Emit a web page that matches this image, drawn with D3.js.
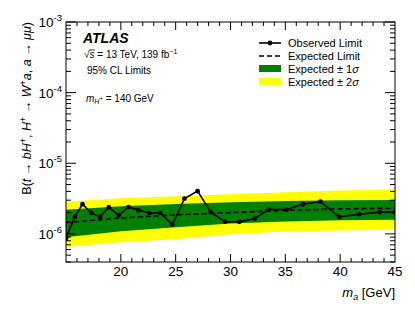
<!DOCTYPE html>
<html lang="en">
<head>
  <meta charset="UTF-8">
  <title>ATLAS limits on B(t -> bH+, H+ -> W+a, a -> mumu)</title>
  <script src="https://d3js.org/d3.v7.min.js"></script>
  <style>
    body { margin: 0; background: #fff; }
    svg { display: block; font-family: 'Liberation Sans', Arial, Helvetica, sans-serif; }
  </style>
</head>
<body>
  <svg id="chart" width="415" height="312"></svg>

  <script>
    // observed limit points (m_a in GeV, limit on branching ratio)
    const obsMass = [15.0, 15.8, 16.5, 17.3, 18.1, 18.9, 19.8, 20.7, 21.6, 22.6, 23.6, 24.7, 25.8,
                     27.0, 28.2, 29.5, 30.8, 32.2, 33.5, 35.1, 36.6, 38.2, 39.9, 41.7, 43.6, 45.0];
    const obsLimit = [0.87e-6, 1.74e-6, 2.63e-6, 1.98e-6, 1.74e-6, 2.39e-6, 1.84e-6, 2.40e-6, 2.17e-6,
                      1.98e-6, 1.98e-6, 1.35e-6, 3.16e-6, 4.03e-6, 2.03e-6, 1.49e-6, 1.48e-6, 1.65e-6,
                      2.21e-6, 2.21e-6, 2.63e-6, 2.87e-6, 1.74e-6, 1.90e-6, 2.03e-6, 2.03e-6];

    // expected limit and bands
    const expMass = [15, 20, 25, 30, 35, 40, 45];
    const expLimit = [1.45e-6, 1.68e-6, 1.86e-6, 2.00e-6, 2.15e-6, 2.26e-6, 2.31e-6];
    const exp1Up   = [2.19e-6, 2.47e-6, 2.66e-6, 2.81e-6, 2.92e-6, 3.00e-6, 3.03e-6];
    const exp1Down = [0.90e-6, 1.09e-6, 1.24e-6, 1.40e-6, 1.50e-6, 1.56e-6, 1.58e-6];
    const exp2Up   = [2.86e-6, 3.20e-6, 3.40e-6, 3.65e-6, 3.90e-6, 4.10e-6, 4.20e-6];
    const exp2Down = [0.65e-6, 0.76e-6, 0.84e-6, 0.99e-6, 1.08e-6, 1.12e-6, 1.14e-6];

    const xTicks = [20, 25, 30, 35, 40, 45];
    const yTicks = [1e-6, 1e-5, 1e-4, 1e-3];
    const yTickExp = ["-6", "-5", "-4", "-3"];

    const W = 415, H = 312;
    const margin = {top: 22, right: 20, bottom: 50, left: 66};
    const width = W - margin.left - margin.right,
          height = H - margin.top - margin.bottom;

    const svg = d3.select("#chart");
    const g = svg.append("g").attr("transform", `translate(${margin.left},${margin.top})`);

    const x = d3.scaleLinear().domain([15, 45]).range([0, width]);
    const y = d3.scaleLog().domain([4e-7, 1e-3]).range([height, 0]);

    g.append("clipPath").attr("id", "plotclip")
      .append("rect").attr("width", width).attr("height", height);
    const plot = g.append("g").attr("clip-path", "url(#plotclip)");

    // bands
    const band = (up, down) => d3.area()
      .x((d, i) => x(expMass[i]))
      .y0((d, i) => y(down[i]))
      .y1((d, i) => y(up[i]));

    plot.append("path").datum(expMass)
      .attr("fill", "#ffff00")
      .attr("d", band(exp2Up, exp2Down));
    plot.append("path").datum(expMass)
      .attr("fill", "#008000")
      .attr("d", band(exp1Up, exp1Down));

    // expected limit
    plot.append("path").datum(expMass)
      .attr("fill", "none").attr("stroke", "#000")
      .attr("stroke-width", 1.6).attr("stroke-dasharray", "5,3")
      .attr("d", d3.line().x((d, i) => x(expMass[i])).y((d, i) => y(expLimit[i])));

    // observed limit
    plot.append("path").datum(obsMass)
      .attr("fill", "none").attr("stroke", "#000").attr("stroke-width", 1.6)
      .attr("d", d3.line().x((d, i) => x(obsMass[i])).y((d, i) => y(obsLimit[i])));
    plot.selectAll("circle.obs").data(obsMass).enter().append("circle")
      .attr("class", "obs")
      .attr("cx", d => x(d))
      .attr("cy", (d, i) => y(obsLimit[i]))
      .attr("r", 2.4)
      .attr("fill", "#000");

    // frame
    g.append("rect").attr("width", width).attr("height", height)
      .attr("fill", "none").attr("stroke", "#000").attr("stroke-width", 1);

    // x ticks (inside, bottom and top)
    const xMinor = d3.range(16, 45, 1);
    xMinor.forEach(v => {
      const major = v % 5 === 0;
      const len = major ? 8 : 4;
      g.append("line").attr("x1", x(v)).attr("x2", x(v)).attr("y1", height).attr("y2", height - len)
        .attr("stroke", "#000");
      g.append("line").attr("x1", x(v)).attr("x2", x(v)).attr("y1", 0).attr("y2", len)
        .attr("stroke", "#000");
    });
    g.selectAll("text.xt").data(xTicks).enter().append("text")
      .attr("class", "xt")
      .attr("x", d => x(d)).attr("y", height + 14)
      .attr("text-anchor", "middle")
      .attr("font-size", 13.5)
      .text(d => d);

    // y ticks (inside, left and right)
    y.ticks().forEach(v => {
      const m = Math.round(v / Math.pow(10, Math.floor(Math.log10(v) + 1e-9)));
      const len = m === 1 ? 10 : 5;
      g.append("line").attr("x1", 0).attr("x2", len).attr("y1", y(v)).attr("y2", y(v))
        .attr("stroke", "#000");
      g.append("line").attr("x1", width).attr("x2", width - len).attr("y1", y(v)).attr("y2", y(v))
        .attr("stroke", "#000");
    });
    const yt = g.selectAll("text.yt").data(yTicks).enter().append("text")
      .attr("class", "yt")
      .attr("x", -4).attr("y", d => y(d) + 5)
      .attr("text-anchor", "end")
      .attr("font-size", 13.5);
    yt.append("tspan").text("10");
    yt.append("tspan").attr("dy", -6).attr("font-size", 9.5).text((d, i) => yTickExp[i]);

    // axis titles
    const xt = g.append("text")
      .attr("x", width).attr("y", height + 35)
      .attr("text-anchor", "end").attr("font-size", 13);
    xt.append("tspan").attr("font-style", "italic").text("m");
    xt.append("tspan").attr("font-size", 9).attr("dy", 3).attr("font-style", "italic").text("a");
    xt.append("tspan").attr("dy", -3).text(" [GeV]");

    const yl = svg.append("text")
      .attr("transform", `translate(31,${margin.top}) rotate(-90)`)
      .attr("text-anchor", "end").attr("font-size", 12.5);
    const ylParts = [
      ["B(", null], ["t", "i"], [" \u2192 ", null], ["bH", "i"], ["+", "s"], [", ", null],
      ["H", "i"], ["+", "s"], [" \u2192 ", null], ["W", "i"], ["+", "s"], ["a", "i"], [", ", null],
      ["a", "i"], [" \u2192 ", null], ["\u03bc\u03bc", "i"], [")", null]
    ];
    let sup = false;
    ylParts.forEach(([t, k]) => {
      const ts = yl.append("tspan").text(t);
      if (k === "i") ts.attr("font-style", "italic");
      if (k === "s") { ts.attr("font-size", 9).attr("dy", -5); sup = true; }
      else if (sup) { ts.attr("dy", 5); sup = false; }
    });

    // labels
    svg.append("text").attr("x", 83).attr("y", 43)
      .attr("font-size", 14).attr("font-weight", "bold").attr("font-style", "italic")
      .text("ATLAS");
    const en = svg.append("text").attr("x", 84).attr("y", 58).attr("font-size", 10);
    en.append("tspan").text("\u221a");
    const sTs = en.append("tspan").attr("font-style", "italic").text("s");
    en.append("tspan").text(" = 13 TeV, 139 fb");
    en.append("tspan").attr("dy", -4).attr("font-size", 7).text("\u22121");
    // overline of the square root
    const sBox = sTs.node().getExtentOfChar ? en.node().getExtentOfChar(1) : null;
    if (sBox) {
      svg.append("line").attr("x1", sBox.x - 0.5).attr("x2", sBox.x + sBox.width + 0.5)
        .attr("y1", sBox.y + 1).attr("y2", sBox.y + 1)
        .attr("stroke", "#000").attr("stroke-width", 0.8);
    }
    svg.append("text").attr("x", 87).attr("y", 74).attr("font-size", 10).text("95% CL Limits");

    const mh = svg.append("text").attr("x", 86).attr("y", 102).attr("font-size", 10);
    mh.append("tspan").attr("font-style", "italic").text("m");
    mh.append("tspan").attr("font-style", "italic").attr("font-size", 7).attr("dy", 2).text("H");
    mh.append("tspan").attr("font-size", 6).attr("dy", -4).text("+");
    mh.append("tspan").attr("dy", 2).text(" = 140 GeV");

    // legend
    const legend = svg.append("g").attr("transform", "translate(259,0)");
    const rows = [47, 60, 73, 86];
    legend.append("line").attr("x1", 0).attr("x2", 22).attr("y1", rows[0] - 4).attr("y2", rows[0] - 4)
      .attr("stroke", "#000").attr("stroke-width", 1.6);
    legend.append("circle").attr("cx", 11).attr("cy", rows[0] - 4).attr("r", 2.4).attr("fill", "#000");
    legend.append("line").attr("x1", 0).attr("x2", 22).attr("y1", rows[1] - 4).attr("y2", rows[1] - 4)
      .attr("stroke", "#000").attr("stroke-width", 1.6).attr("stroke-dasharray", "5,3");
    legend.append("rect").attr("x", 0).attr("y", rows[2] - 8).attr("width", 22).attr("height", 7)
      .attr("fill", "#008000");
    legend.append("rect").attr("x", 0).attr("y", rows[3] - 8).attr("width", 22).attr("height", 7)
      .attr("fill", "#ffff00");
    const legText = ["Observed Limit", "Expected Limit"];
    legText.forEach((t, i) => {
      legend.append("text").attr("x", 29).attr("y", rows[i]).attr("font-size", 11).text(t);
    });
    ["1", "2"].forEach((n, i) => {
      const tx = legend.append("text").attr("x", 29).attr("y", rows[i + 2]).attr("font-size", 11);
      tx.append("tspan").text("Expected \u00b1 " + n);
      tx.append("tspan").attr("font-style", "italic").text("\u03c3");
    });
  </script>
</body>
</html>
